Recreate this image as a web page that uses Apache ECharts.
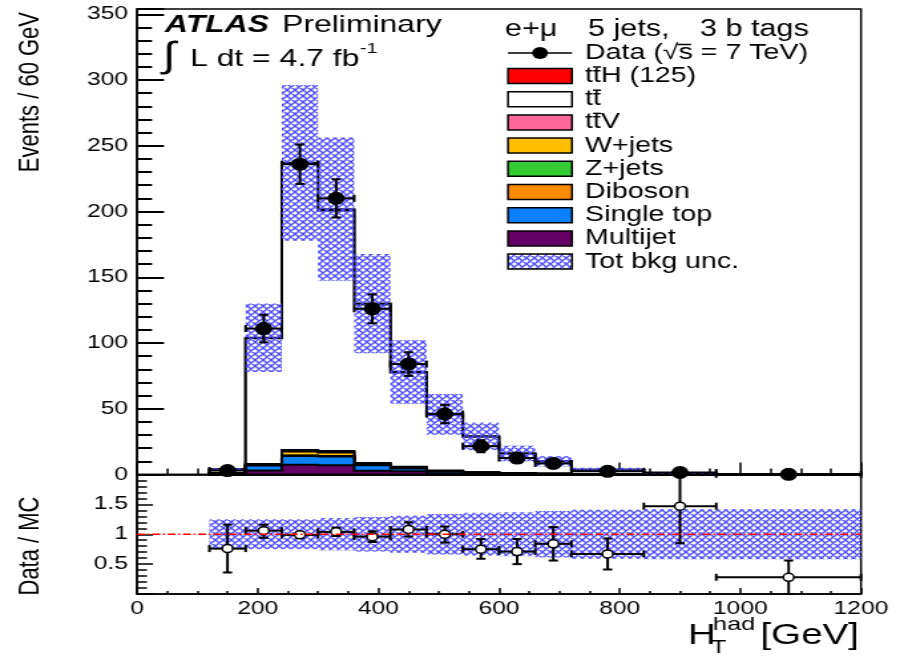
<!DOCTYPE html>
<html>
<head>
<meta charset="utf-8">
<title>HT had, e+mu 5 jets 3 b tags</title>
<script src="https://cdn.jsdelivr.net/npm/echarts@6.0.0/dist/echarts.min.js"></script>
<style>
  html, body { margin: 0; padding: 0; background: #fff; overflow: hidden; }
  /* the reference picture is stretched sideways, so is this one */
  #chart { width: 677px; height: 657px; transform: scaleX(1.3294); transform-origin: 0 0; }
</style>
</head>
<body>
<div id="chart"></div>
<script>
// bins in GeV, contents are events / 60 GeV
const binLo = [120, 180, 240, 300, 360, 420, 480, 540, 600, 660, 720, 840, 960]
const binHi = [180, 240, 300, 360, 420, 480, 540, 600, 660, 720, 840, 960, 1200]

const dataEvents = [3, 111, 236, 210, 126, 84, 46, 21.5, 12.5, 8.4, 2.4, 1.5, 0.12]
const dataErr = [1.7, 10.5, 15, 14.5, 11, 9, 7, 4.6, 3.5, 2.9, 1.1, 0.9, 0.25]

// backgrounds, stacked from the bottom up
const multijet = [0.6, 3.0, 7.4, 7.0, 2.8, 2.4, 1.0, 0.6, 0.4, 0.3, 0.2, 0.1, 0.05]
const singleTop = [0.3, 3.8, 6.6, 6.6, 4.3, 2.2, 1.4, 0.8, 0.5, 0.3, 0.2, 0.1, 0.05]
const diboson = [0, 0.1, 0.2, 0.2, 0.1, 0.1, 0.05, 0, 0, 0, 0, 0, 0]
const zJets = [0, 0.1, 0.3, 0.2, 0.1, 0.1, 0, 0, 0, 0, 0, 0, 0]
const wJets = [0, 0.5, 3.0, 2.8, 0.8, 0.6, 0.3, 0.2, 0.1, 0, 0, 0, 0]
const ttV = [0, 0.4, 1.2, 1.1, 0.7, 0.5, 0.3, 0.2, 0.1, 0.05, 0.03, 0.01, 0]
const ttbar = [3.1, 95.8, 217.4, 182.9, 120.5, 71.6, 42.4, 27.0, 14.8, 9.3, 3.1, 0.8, 0.3]
const ttH = [0, 0.3, 0.9, 1.0, 0.7, 0.5, 0.3, 0.2, 0.1, 0.1, 0.05, 0.02, 0.01]
// relative total background uncertainty
const bkgUnc = [0.25, 0.25, 0.25, 0.27, 0.29, 0.31, 0.34, 0.36, 0.37, 0.39, 0.41, 0.42, 0.42]

// Data / MC
const ratio = [0.76, 1.06, 0.99, 1.04, 0.96, 1.08, 1.0, 0.75, 0.71, 0.84, 0.67, 1.47, 0.28]
const ratioErrLo = [0.40, 0.12, 0.05, 0.07, 0.09, 0.12, 0.14, 0.16, 0.21, 0.28, 0.26, 0.62, 0.28]
const ratioErrHi = [0.40, 0.10, 0.05, 0.07, 0.09, 0.12, 0.13, 0.17, 0.21, 0.28, 0.26, 0.53, 0.28]

// axes
const xRange = [0, 1200]
const xStep = 200
const yRange = [0, 354]
const yStep = 50
const ratioRange = [0, 2]
const ratioStep = 0.5

const S = 900 / 677
const sx = v => v / S // reference pixels -> chart pixels (horizontal only)
const FONT = '"Liberation Sans", Arial, Helvetica, sans-serif'

const layers = [
  { name: 'Multijet', values: multijet, color: '#660066' },
  { name: 'Single top', values: singleTop, color: '#0a80ff' },
  { name: 'Diboson', values: diboson, color: '#ff8c00' },
  { name: 'Z+jets', values: zJets, color: '#33cc33' },
  { name: 'W+jets', values: wJets, color: '#ffbf00' },
  { name: 'tt̄V', values: ttV, color: '#ff6699' },
  { name: 'tt̄', values: ttbar, color: '#ffffff' },
  { name: 'tt̄H (125)', values: ttH, color: '#ff0000' }
]
const cum = []
layers.forEach((l, k) => {
  cum.push(l.values.map((v, b) => v + (k ? cum[k - 1][b] : 0)))
})
const mcTotal = cum[cum.length - 1]
const drawOrder = layers.map((l, k) => layers.length - 1 - k)

function makeHatch () {
  const c = document.createElement('canvas')
  c.width = 6
  c.height = 6
  const g = c.getContext('2d')
  g.strokeStyle = '#4d4dff'
  g.lineWidth = 1.4
  g.beginPath()
  for (let k = -1; k <= 1; k++) {
    g.moveTo(6 * k, 0); g.lineTo(6 * k + 6, 6)
    g.moveTo(6 * k + 6, 0); g.lineTo(6 * k, 6)
  }
  g.stroke()
  return c
}
const hatch = { image: makeHatch(), repeat: 'repeat' }

const CAP = 3.5
function errorMark (api, i, y, eLo, eHi, r, open) {
  const xc = (binLo[i] + binHi[i]) / 2
  const c = api.coord([xc, y])
  const l = api.coord([binLo[i], y])
  const rr = api.coord([binHi[i], y])
  const t = api.coord([xc, y + eHi])
  const b = api.coord([xc, Math.max(y - eLo, 0)])
  const ln = { stroke: '#000', lineWidth: 2 }
  const line = (x1, y1, x2, y2) => ({ type: 'line', shape: { x1, y1, x2, y2 }, style: ln })
  return {
    type: 'group',
    children: [
      line(l[0], c[1], rr[0], c[1]),
      line(c[0], t[1], c[0], b[1]),
      line(c[0] - CAP, t[1], c[0] + CAP, t[1]),
      line(c[0] - CAP, b[1], c[0] + CAP, b[1]),
      line(l[0], c[1] - CAP, l[0], c[1] + CAP),
      line(rr[0], c[1] - CAP, rr[0], c[1] + CAP),
      {
        type: 'circle',
        shape: { cx: c[0], cy: c[1], r },
        style: open ? { fill: '#fff', stroke: '#000', lineWidth: 1.5 } : { fill: '#000' }
      }
    ]
  }
}

function xAxis (gridIndex, showLabel, tickLen, minorLen) {
  return {
    type: 'value',
    gridIndex,
    min: xRange[0],
    max: xRange[1],
    interval: xStep,
    axisLine: { show: true, onZero: false, lineStyle: { color: '#000', width: 1.5 } },
    axisTick: { show: true, inside: true, length: tickLen, lineStyle: { color: '#000', width: 1.5 } },
    minorTick: { show: true, splitNumber: 4, length: minorLen, lineStyle: { color: '#000', width: 1.5 } },
    splitLine: { show: false },
    axisLabel: { show: showLabel, color: '#000', fontSize: 18.5, fontFamily: FONT, margin: 5, formatter: v => String(v) }
  }
}

function text (str, x, y, size, extra) {
  const o = extra || {}
  const el = {
    type: 'text',
    x: sx(x),
    y,
    z: 100,
    style: {
      text: str,
      font: (o.style || '') + ' ' + size + 'px ' + FONT,
      fill: '#000',
      align: o.align || 'left',
      textAlign: o.align || 'left',
      verticalAlign: 'middle',
      textVerticalAlign: 'middle'
    }
  }
  if (o.rotation) el.rotation = o.rotation
  return el
}
function seg (x1, y1, x2, y2, w) {
  return { type: 'line', z: 100, shape: { x1: sx(x1), y1, x2: sx(x2), y2 }, style: { stroke: '#000', lineWidth: w || 1.5 } }
}

// legend and labels
const graphics = [
  text('ATLAS', 165, 25, 24, { style: 'italic bold' }),
  text('Preliminary', 282, 25, 24),
  text('∫', 163, 57, 36),
  text('L dt = 4.7 fb', 190, 59, 24),
  text('-1', 360, 49, 15),
  text('e+μ', 505, 30, 23),
  text('5 jets,', 588, 30, 23),
  text('3 b tags', 700, 30, 23),
  seg(508, 53, 572, 53, 1.5),
  { type: 'circle', z: 100, shape: { cx: sx(540), cy: 53, r: 6 }, style: { fill: '#000' } },
  text('Data (√s = 7 TeV)', 585, 53, 21.5),
  seg(677, 44.5, 691, 44.5, 1.5),
  text('Events / 60 GeV', 31, 12, 22, { align: 'right', rotation: Math.PI / 2 }),
  text('Data / MC', 31, 546, 22, { align: 'center', rotation: Math.PI / 2 }),
  text('H', 688, 636, 29),
  text('had', 713, 625, 19),
  text('T', 711, 648, 19),
  text('[GeV]', 859, 636, 29, { align: 'right' })
]
const legendRows = drawOrder.map(k => ({ name: layers[k].name, fill: layers[k].color }))
legendRows.push({ name: 'Tot bkg unc.', fill: hatch })
legendRows.forEach((row, i) => {
  const y = 76 + 23.2 * i
  graphics.push({
    type: 'rect',
    z: 100,
    shape: { x: sx(508), y: y - 7.5, width: sx(572) - sx(508), height: 15 },
    style: { fill: row.fill, stroke: '#000', lineWidth: 1.5 }
  })
  graphics.push(text(row.name.replace('t̄', 't'), 585, y, 21.5))
  if (row.name.indexOf('t̄') >= 0) graphics.push(seg(593, y - 9, 601, y - 9, 1.5))
})

const chart = echarts.init(document.getElementById('chart'))
chart.setOption({
  animation: false,
  grid: [
    { left: sx(137), width: sx(861) - sx(137), top: 9, height: 465.5, show: true, borderColor: '#000', borderWidth: 1.5, outerBoundsMode: 'none' },
    { left: sx(137), width: sx(861) - sx(137), top: 474.5, height: 119.5, show: true, borderColor: '#000', borderWidth: 1.5, outerBoundsMode: 'none' }
  ],
  xAxis: [xAxis(0, false, 12, 6), xAxis(1, true, 6, 3)],
  yAxis: [
    {
      type: 'value',
      gridIndex: 0,
      min: yRange[0],
      max: yRange[1],
      interval: yStep,
      axisLine: { show: true, lineStyle: { color: '#000', width: 1.5 } },
      axisTick: { show: true, inside: true, length: sx(27), lineStyle: { color: '#000', width: 2 } },
      minorTick: { show: true, splitNumber: 5, length: sx(15), lineStyle: { color: '#000', width: 2 } },
      splitLine: { show: false },
      axisLabel: { color: '#000', fontSize: 18.5, fontFamily: FONT, margin: sx(9) }
    },
    {
      type: 'value',
      gridIndex: 1,
      min: ratioRange[0],
      max: ratioRange[1],
      interval: ratioStep,
      axisLine: { show: true, lineStyle: { color: '#000', width: 1.5 } },
      axisTick: { show: true, inside: true, length: sx(16), lineStyle: { color: '#000', width: 1.5 } },
      minorTick: { show: true, splitNumber: 5, length: sx(10), lineStyle: { color: '#000', width: 1.5 } },
      splitLine: { show: false },
      axisLabel: { color: '#000', fontSize: 18.5, fontFamily: FONT, margin: sx(9), showMinLabel: false, showMaxLabel: false }
    }
  ],
  series: [
    {
      type: 'custom',
      name: 'stack',
      xAxisIndex: 0,
      yAxisIndex: 0,
      data: drawOrder.map(k => [k, 0]),
      renderItem: (params, api) => {
        const k = drawOrder[params.dataIndex]
        const h = cum[k]
        const pts = [api.coord([binLo[0], 0])]
        binLo.forEach((lo, b) => {
          pts.push(api.coord([lo, h[b]]), api.coord([binHi[b], h[b]]))
        })
        pts.push(api.coord([binHi[binHi.length - 1], 0]))
        return {
          type: 'polygon',
          shape: { points: pts },
          style: { fill: layers[k].color, stroke: '#000', lineWidth: 2 }
        }
      }
    },
    {
      type: 'custom',
      name: 'Tot bkg unc.',
      xAxisIndex: 0,
      yAxisIndex: 0,
      data: binLo.map((lo, i) => [lo, mcTotal[i]]),
      renderItem: (params, api) => {
        const i = params.dataIndex
        const p0 = api.coord([binLo[i], mcTotal[i] * (1 + bkgUnc[i])])
        const p1 = api.coord([binHi[i], mcTotal[i] * (1 - bkgUnc[i])])
        return {
          type: 'rect',
          shape: { x: p0[0], y: p0[1], width: p1[0] - p0[0], height: p1[1] - p0[1] },
          style: { fill: hatch }
        }
      }
    },
    {
      type: 'custom',
      name: 'Data',
      xAxisIndex: 0,
      yAxisIndex: 0,
      data: binLo.map((lo, i) => [(lo + binHi[i]) / 2, dataEvents[i]]),
      renderItem: (params, api) => {
        const i = params.dataIndex
        return errorMark(api, i, dataEvents[i], dataErr[i], dataErr[i], 6.5, false)
      }
    },
    {
      type: 'custom',
      name: 'ratio unc.',
      xAxisIndex: 1,
      yAxisIndex: 1,
      data: binLo.map((lo, i) => [lo, 1]),
      renderItem: (params, api) => {
        const i = params.dataIndex
        const p0 = api.coord([binLo[i], 1 + bkgUnc[i]])
        const p1 = api.coord([binHi[i], 1 - bkgUnc[i]])
        return {
          type: 'rect',
          shape: { x: p0[0], y: p0[1], width: p1[0] - p0[0], height: p1[1] - p0[1] },
          style: { fill: hatch }
        }
      }
    },
    {
      type: 'line',
      xAxisIndex: 1,
      yAxisIndex: 1,
      data: [[xRange[0], 1], [xRange[1], 1]],
      symbol: 'none',
      silent: true,
      lineStyle: { color: '#ff0000', width: 1.5, type: [6, 2, 1.5, 2] }
    },
    {
      type: 'custom',
      name: 'Data / MC',
      xAxisIndex: 1,
      yAxisIndex: 1,
      data: binLo.map((lo, i) => [(lo + binHi[i]) / 2, ratio[i]]),
      renderItem: (params, api) => {
        const i = params.dataIndex
        return errorMark(api, i, ratio[i], ratioErrLo[i], ratioErrHi[i], 4, true)
      }
    }
  ],
  graphic: { elements: graphics }
})
</script>
</body>
</html>
